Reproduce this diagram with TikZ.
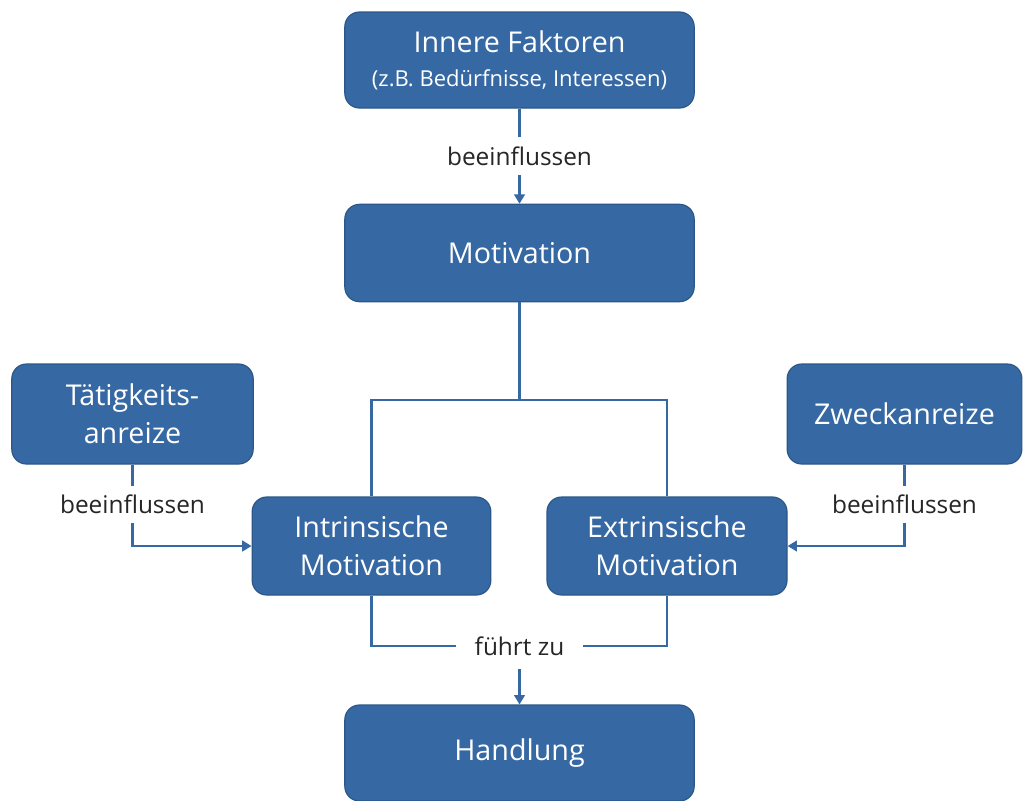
\documentclass[tikz,border=0pt]{standalone}
\usepackage{fontspec}
\setmainfont{Open Sans}
\usepackage{tikz}
\usetikzlibrary{positioning,arrows.meta}
\definecolor{boxBlau}{HTML}{3669A3}
\definecolor{boxRand}{HTML}{2B5788}
\colorlet{linieBlau}{boxBlau}

\begin{document}
\begin{tikzpicture}[x=0.75pt, y=-0.75pt, >={Triangle[width=8pt,length=7pt]},
    box/.style={draw=boxRand, line width=0.9pt, fill=boxBlau, rounded corners=11pt,
      text=white, align=center, inner sep=0pt, font=\fontsize{21.5}{28.5}\selectfont},
    verb/.style={line width=1.6pt, linieBlau},
    lbl/.style={fill=white, inner xsep=12pt, inner ysep=7pt, text=black!85,
      font=\fontsize{18.3}{22}\selectfont}]
    \useasboundingbox (0,0) rectangle (1023,800);

    % Kaesten
    \node[box, minimum width=262pt, minimum height=72pt] (innere) at (519.5,60)
      {Innere Faktoren\\[-3pt]{\fontsize{16.5}{20}\selectfont(z.B. Bedürfnisse, Interessen)}};
    \node[box, minimum width=262pt, minimum height=73pt] (motiv) at (519.5,253) {Motivation};
    \node[box, minimum width=181pt, minimum height=75pt] (taet) at (132.5,414)
      {Tätigkeits-\\anreize};
    \node[box, minimum width=176pt, minimum height=75pt] (zweck) at (904.5,414) {Zweckanreize};
    \node[box, minimum width=179pt, minimum height=73.5pt] (intr) at (371.5,546)
      {Intrinsische\\Motivation};
    \node[box, minimum width=180pt, minimum height=73.5pt] (extr) at (667,546)
      {Extrinsische\\Motivation};
    \node[box, minimum width=262pt, minimum height=72pt] (hand) at (519.5,753) {Handlung};

    % Innere Faktoren -> Motivation
    \draw[verb, ->] (innere) -- node[lbl] {beeinflussen} (motiv);

    % Verzweigung
    \coordinate (split) at (519.5,400);
    \draw[verb] (motiv) -- (split);
    \draw[verb] (intr.north) |- (split) -| (extr.north);

    % Anreize
    \draw[verb, ->] (taet.south) |- node[lbl, pos=0.245] {beeinflussen} (intr.west);
    \draw[verb, ->] (zweck.south) |- node[lbl, pos=0.245] {beeinflussen} (extr.east);

    % Handlung
    \node[lbl, inner xsep=14pt, inner ysep=10pt] (fz) at (519.5,646) {führt zu};
    \draw[verb] (intr.south) |- (fz) -| (extr.south);
    \draw[verb, ->] (fz) -- (hand);
\end{tikzpicture}
\end{document}
